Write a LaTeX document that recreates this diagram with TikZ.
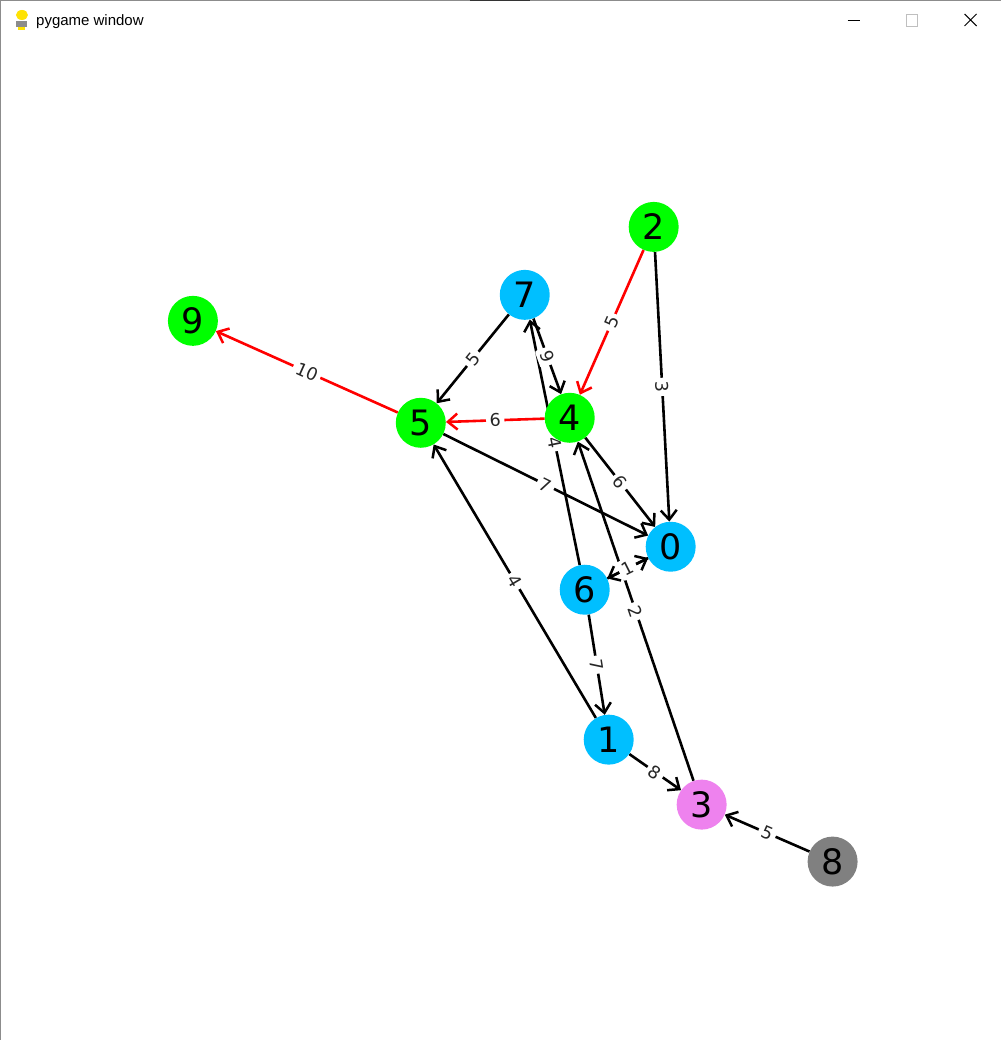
\documentclass[tikz,border=0pt]{standalone}
\usepackage{fontspec}
\setmainfont{DejaVu Sans}
\newfontfamily\titlefont{Liberation Sans}
\usetikzlibrary{arrows.meta}
\pgfdeclarelayer{edgelayer}
\pgfdeclarelayer{labellayer}
\pgfsetlayers{edgelayer,labellayer,main}
\definecolor{nlime}{RGB}{0,255,0}
\definecolor{nblue}{RGB}{0,191,255}
\definecolor{nviolet}{RGB}{238,130,238}
\definecolor{ngray}{RGB}{128,128,128}
\definecolor{nred}{RGB}{255,0,0}
\begin{document}
\begin{tikzpicture}[x=1pt,y=-1pt,
  vtx/.style={circle,minimum size=50pt,inner sep=0pt,draw=none,font=\fontsize{35}{35}\selectfont},
  edge/.style={line width=2.6pt,-{Straight Barb[length=9.5pt,width=16pt,line width=2.5pt]}},
  elab/.style={midway,sloped,fill=white,inner sep=3.5pt,rounded corners=2pt,text=black!85,font=\fontsize{17.5}{17.5}\selectfont},
  winline/.style={line width=1pt}]
\begin{pgfonlayer}{edgelayer}
\useasboundingbox (0,0) rectangle (1001,1040);
\fill[white] (0,0) rectangle (1001,1040);
\end{pgfonlayer}
% window frame
\draw[black!45,line width=1pt] (0.5,1040) -- (0.5,0.5) -- (1001,0.5);
\draw[black!80,line width=1.5pt] (470,0.75) -- (530,0.75);
% title bar icon
\fill[yellow!85!orange] (22,15) ellipse [x radius=6pt, y radius=5pt];
\fill[black!45] (16,21) rectangle (27,27);
\fill[yellow!85!orange] (18,27) rectangle (25,30);
\node[anchor=base west,inner sep=0pt,font=\titlefont\fontsize{15}{15}\selectfont] (title) at (36,26) {pygame window};
\draw[winline] (848,20.5) -- (860,20.5);
\draw[winline,black!25] (906.5,14.5) rectangle (917.5,26.5);
\draw[winline] (965,14) -- (977,26) (977,14) -- (965,26);
% nodes
\node[vtx,fill=nlime] (n2) at (654,227) {2};
\node[vtx,fill=nlime] (n9) at (193,321) {9};
\node[vtx,fill=nblue] (n7) at (525,295) {7};
\node[vtx,fill=nlime] (n5) at (421,423) {5};
\node[vtx,fill=nlime] (n4) at (570,418) {4};
\node[vtx,fill=nblue] (n0) at (671,547) {0};
\node[vtx,fill=nblue] (n6) at (585,590) {6};
\node[vtx,fill=nblue] (n1) at (609,740) {1};
\node[vtx,fill=nviolet] (n3) at (702,805) {3};
\node[vtx,fill=ngray] (n8) at (833,862) {8};
% edges
\begin{pgfonlayer}{edgelayer}
\foreach \a/\b/\c in {2/4/nred,2/0/black,7/5/black,7/4/black,6/7/black,4/5/nred,5/9/nred,5/0/black,4/0/black,0/6/black,6/0/black,3/4/black,6/1/black,1/5/black,1/3/black,8/3/black}
  \draw[edge,draw=\c] (n\a) -- (n\b);
\end{pgfonlayer}
% edge labels
\begin{pgfonlayer}{labellayer}
\foreach \a/\b/\w in {2/4/5,2/0/3,7/5/5,7/4/9,6/7/4,4/5/6,5/9/10,5/0/7,4/0/6,0/6/1,6/0/1,3/4/2,6/1/7,1/5/4,1/3/8,8/3/5}
  \path (n\a) -- node[elab] {\w} (n\b);
\end{pgfonlayer}
\end{tikzpicture}
\end{document}
